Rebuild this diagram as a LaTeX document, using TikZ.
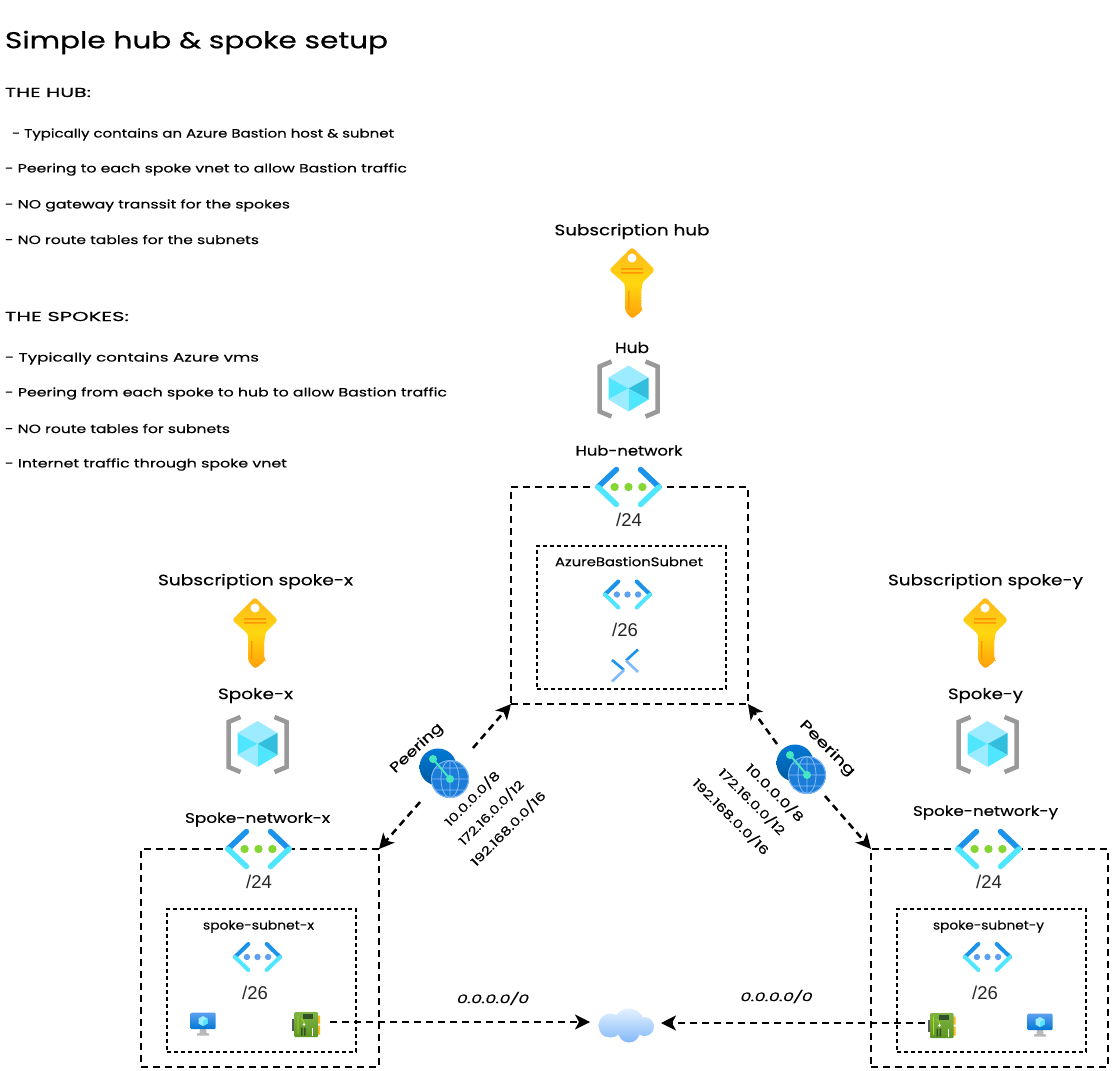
\documentclass[tikz,border=0pt]{standalone}
\usepackage{fontspec}
\usepackage{graphicx}
\usetikzlibrary{arrows.meta}
\setmainfont{Poppins}[FakeBold=0.25]
\newfontfamily\titlefont{Poppins}[FakeBold=0.6]
\newfontfamily\helv{Liberation Sans}
\newcommand{\fitw}[2]{\resizebox{#1pt}{\height}{#2}}
\newcommand{\vnetbody}[6]{%
  \fill[white] (-#1,-#2) rectangle (#1,#2);
  \draw[#4,line width=#3pt,line cap=round] (-#1+3,0) -- (-#1*0.36,-#2+2.5);
  \draw[#5,line width=#3pt,line cap=round] (-#1+3,0) -- (-#1*0.36,#2-2.5);
  \draw[#4,line width=#3pt,line cap=round] (#1-3,0) -- (#1*0.36,-#2+2.5);
  \draw[#5,line width=#3pt,line cap=round] (#1-3,0) -- (#1*0.36,#2-2.5);
  \fill[#6] (-#1*0.415,0) circle (#1*0.125) (0,0) circle (#1*0.125) (#1*0.415,0) circle (#1*0.125);
}
\definecolor{vblue}{HTML}{1B93EB}
\definecolor{vcyan}{HTML}{50E6FF}
\definecolor{vgreen}{HTML}{86D633}
\definecolor{vdot}{HTML}{5EA0EF}
\definecolor{keytop}{HTML}{FFB81C}
\definecolor{keymid}{HTML}{FFD70F}
\definecolor{keybot}{HTML}{FF9E0A}
\definecolor{keyline}{HTML}{FF9300}
\definecolor{rggray}{HTML}{999999}
\definecolor{rgtop}{HTML}{9CEBFF}
\definecolor{rgdark}{HTML}{32BEDD}
\definecolor{peerdark}{HTML}{0078D4}
\definecolor{peerdeep}{HTML}{005BA1}
\definecolor{peerglobe}{HTML}{1C7DD8}
\definecolor{peerline}{HTML}{83B9F9}
\definecolor{peerteal}{HTML}{45E6C0}
\definecolor{nictop}{HTML}{7DB343}
\definecolor{nicbot}{HTML}{5E9624}
\definecolor{nicchip}{HTML}{32502A}
\definecolor{cloudtop}{HTML}{E4F1FF}
\definecolor{cloudbot}{HTML}{83B9F9}
\tikzset{
  x=1pt,y=-1pt,
  lbl/.style={inner sep=0pt,outer sep=0pt,text=black,yshift=-1.5pt},
  iconbox/.style={inner sep=0pt,outer sep=0pt},
  outerbox/.style={draw=black,line width=2.5pt,dash pattern=on 7pt off 5pt,inner sep=0pt,outer sep=0pt,rectangle},
  innerbox/.style={draw=black,line width=1.2pt,dash pattern=on 4pt off 3pt,inner sep=0pt,outer sep=0pt,rectangle},
  conn/.style={draw=black,line width=2.5pt,dash pattern=on 7pt off 5pt,-{Stealth[length=15pt,width=15pt,inset=4pt]}},
  big/.style={font=\fontsize{15}{17}\selectfont},
  mid/.style={font=\fontsize{14}{16}\selectfont},
  small/.style={font=\fontsize{12}{14}\selectfont},
  sub/.style={font=\fontsize{12.5}{14}\selectfont},
  cidr/.style={font=\helv\fontsize{18.5}{20}\selectfont,text=black!85,inner sep=0pt,outer sep=0pt},
  pics/keyicon/.style={code={
    \shade[top color=keytop,bottom color=keybot,middle color=keymid,rounded corners=3pt]
      (0,-36) -- (23,-13) -- (10,0) -- (10,7) -- (8,10) -- (10,13) -- (8,16) -- (10,19) -- (8,22) -- (10,25) -- (10,28) -- (0,36) -- (-7,28) -- (-7,1) -- (-23,-13) -- cycle;
    \fill[white] (0,-25) circle (4.5);
    \fill[keyline] (-11,-15) rectangle (11,-13.5) (-11,-11) rectangle (11,-9.5) (-4,8) rectangle (-2.7,26);
  }},
  pics/rgicon/.style={code={
    \draw[rggray,line width=4.5pt] (-17,-27) -- (-29,-22) -- (-29,23) -- (-17,28);
    \draw[rggray,line width=4.5pt] (17,-27) -- (29,-22) -- (29,23) -- (17,28);
    \fill[rgtop] (-20,-11) -- (0,-23) -- (20,-11) -- (0,0) -- cycle;
    \fill[vcyan] (-20,-11) -- (0,0) -- (-20,11) -- cycle;
    \fill[rgdark] (20,-11) -- (0,0) -- (20,11) -- cycle;
    \fill[rgtop] (-20,11) -- (0,0) -- (0,23) -- cycle;
    \fill[vcyan] (20,11) -- (0,0) -- (0,23) -- cycle;
  }},
  pics/vnetbig/.style={code={\vnetbody{33.5}{20}{5.5}{vblue}{vcyan}{vgreen}}},
  pics/vnetsmall/.style={code={\vnetbody{25.5}{15.5}{4}{vblue}{vcyan}{vdot}}},
  pics/bastionicon/.style={code={
    \draw[vblue,line width=2.6pt] (-13,-5.5) -- (-1,4.5);
    \draw[peerline,line width=2.6pt] (-1,4.5) -- (-13,16);
    \draw[vblue,line width=2.6pt] (13,-16) -- (1,-5);
    \draw[peerline,line width=2.6pt] (1,-5) -- (13,6.5);
  }},
  pics/peericon/.style={code={
    \shade[top color=peerdark,bottom color=peerdeep] (-6,-6) circle (18.5);
    \fill[peerglobe] (6,6) circle (19);
    \draw[peerline,line width=.9pt] (6,6) circle (18.5);
    \draw[peerline,line width=.8pt] (6,6) ellipse (9 and 18.5) (6,-13) -- (6,25) (-13,6) -- (25,6) (-9,-5) -- (21,-5) (-9,17) -- (21,17);
    \draw[peerteal,line width=2pt] (-11,-14) -- (6,6);
    \fill[peerteal] (-11,-14) circle (4) (6,6) circle (4);
  }},
  pics/vmicon/.style={code={
    \fill[gray!55] (-3,4) -- (3,4) -- (3.5,9) -- (6,9.5) -- (6,11.5) -- (-6,11.5) -- (-6,9.5) -- (-3.5,9) -- cycle;
    \shade[top color=vdot,bottom color=peerdark,rounded corners=1pt] (-12.5,-11.5) rectangle (12.5,5);
    \fill[rgtop] (0,-8) -- (4.5,-5.5) -- (4.5,-.5) -- (0,2) -- (-4.5,-.5) -- (-4.5,-5.5) -- cycle;
    \fill[vcyan] (0,-3) -- (4.5,-5.5) -- (4.5,-.5) -- (0,2) -- cycle;
  }},
  pics/nicicon/.style={code={
    \fill[gray!70!black] (-14,-6) rectangle (-11,6);
    \fill[keytop] (11,-9) rectangle (14,-1) (11,1) rectangle (14,10);
    \shade[top color=nictop,bottom color=nicbot,rounded corners=1pt] (-11.5,-12.5) rectangle (12,12.5);
    \fill[nicchip] (-3,-11) rectangle (7,-6);
    \draw[keymid!70!green,line width=.7pt] (-8,-9) -- (-8,9) (-5,-6) -- (-2,-3) -- (-2,-1);
    \fill[white] (-2,0) circle (1.4);
    \fill[nicchip] (-5,3) rectangle (-3.5,11) (-2,3) rectangle (-.5,11);
    \fill[white] (6,3) rectangle (7.2,11);
  }},
  pics/cloudicon/.style={code={
    \shade[top color=cloudtop,bottom color=cloudbot]
      (-15.5,0) circle (12) (3,-2) circle (15) (18.5,1) circle (9.5) (3,6) circle (11) (-18,3) circle (8.5);
  }},
}
\begin{document}
\begin{tikzpicture}
\useasboundingbox (0,0) rectangle (1114,1071);
\fill[white] (0,0) rectangle (1114,1071);

% boxes
\node[outerbox,minimum width=237pt,minimum height=217pt] (hubbox) at (629.5,595.5) {};
\node[innerbox,minimum width=189pt,minimum height=143pt] (hubsub) at (631.5,617.5) {};
\node[outerbox,minimum width=238pt,minimum height=218pt] (xbox) at (260,958) {};
\node[innerbox,minimum width=189pt,minimum height=143pt] (xsub) at (261.5,980.5) {};
\node[outerbox,minimum width=237pt,minimum height=218pt] (ybox) at (989.5,958) {};
\node[innerbox,minimum width=189pt,minimum height=143pt] (ysub) at (991.5,980.5) {};

% invisible anchors of the icons that connectors attach to
\node[iconbox,minimum width=53pt,minimum height=54pt] (peerl) at (446.5,775) {};
\node[iconbox,minimum width=48pt,minimum height=52pt] (peerr) at (801,770) {};
\node[iconbox,minimum width=48pt,minimum height=24pt] (nicx) at (306,1022) {};
\node[iconbox,minimum width=32pt,minimum height=24pt] (nicy) at (941,1023) {};
\node[iconbox,minimum width=71pt,minimum height=35pt] (cloud) at (625.5,1023) {};

% connectors
\draw[conn] (peerl.north east) -- (hubbox.south west);
\draw[conn] (peerl.south west) -- (xbox.north east);
\draw[conn] (peerr.north west) -- (hubbox.south east);
\draw[conn] (peerr.south east) -- (ybox.north west);
\draw[conn] (nicx.east) -- (nicx.east -| cloud.west);
\draw[conn] (nicy.west) -- (nicy.west -| cloud.east);

% icons
\pic at (632,283) {keyicon};
\pic at (255,633) {keyicon};
\pic at (985,633) {keyicon};
\pic at (628.5,388.5) {rgicon};
\pic at (257.5,744) {rgicon};
\pic at (987.5,744) {rgicon};
\pic at (628.5,487) {vnetbig};
\pic at (258.5,849) {vnetbig};
\pic at (988.5,849) {vnetbig};
\pic at (627.5,594.5) {vnetsmall};
\pic at (257.5,957) {vnetsmall};
\pic at (987.5,957) {vnetsmall};
\pic at (625,665.5) {bastionicon};
\pic at (444,773) {peericon};
\pic at (801,769) {peericon};
\pic at (203,1024) {vmicon};
\pic at (1040,1025) {vmicon};
\pic at (306,1024.5) {nicicon};
\pic at (941.5,1025.5) {nicicon};
\pic at (626,1025.5) {cloudicon};

% left-hand text
\node[lbl,anchor=west,font=\titlefont\fontsize{23}{26}\selectfont] (title) at (5,41) {\fitw{383}{Simple hub \& spoke setup}};
\node[lbl,anchor=west,font=\fontsize{13}{15}\selectfont] (t1) at (5,91) {\fitw{86}{THE HUB:}};
\node[lbl,small,anchor=west] (t2) at (12,133) {\fitw{382}{- Typically contains an Azure Bastion host \& subnet}};
\node[lbl,small,anchor=west] (t3) at (5,168) {\fitw{402}{- Peering to each spoke vnet to allow Bastion traffic}};
\node[lbl,small,anchor=west] (t4) at (5,204) {\fitw{285}{- NO gateway transsit for the spokes}};
\node[lbl,small,anchor=west] (t5) at (5,238) {\fitw{254}{- NO route tables for the subnets}};
\node[lbl,anchor=west,font=\fontsize{13}{15}\selectfont] (t6) at (5,315) {\fitw{124}{THE SPOKES:}};
\node[lbl,small,anchor=west] (t7) at (5,357) {\fitw{254}{- Typically contains Azure vms}};
\node[lbl,small,anchor=west] (t8) at (5,392) {\fitw{442}{- Peering from each spoke to hub to allow Bastion traffic}};
\node[lbl,small,anchor=west] (t9) at (5,427) {\fitw{225}{- NO route tables for subnets}};
\node[lbl,small,anchor=west] (t10) at (5,463) {\fitw{282}{- Internet traffic through spoke vnet}};

% icon labels
\node[lbl,big] (subhub) at (632,230) {\fitw{155}{Subscription hub}};
\node[lbl,big] (hublbl) at (632,346) {\fitw{34}{Hub}};
\node[lbl,mid] (hubnet) at (629,449) {\fitw{107}{Hub-network}};
\node[cidr] (hub24) at (629,520) {/24};
\node[lbl,sub] (hubsublbl) at (629,560) {\fitw{148}{AzureBastionSubnet}};
\node[cidr] (hub26) at (625,630) {/26};

\node[lbl,big] (subx) at (255.5,580) {\fitw{195}{Subscription spoke-x}};
\node[lbl,big] (spokex) at (255.5,694) {\fitw{75}{Spoke-x}};
\node[lbl,mid] (netx) at (257.5,818) {\fitw{145}{Spoke-network-x}};
\node[cidr] (x24) at (259,882) {/24};
\node[lbl,sub] (subnetx) at (258.5,925) {\fitw{111}{spoke-subnet-x}};
\node[cidr] (x26) at (255,993) {/26};

\node[lbl,big] (suby) at (985.5,580) {\fitw{195}{Subscription spoke-y}};
\node[lbl,big] (spokey) at (985.5,694) {\fitw{75}{Spoke-y}};
\node[lbl,mid] (nety) at (985.5,811) {\fitw{145}{Spoke-network-y}};
\node[cidr] (y24) at (989,882) {/24};
\node[lbl,sub] (subnety) at (988.5,925) {\fitw{111}{spoke-subnet-y}};
\node[cidr] (y26) at (985,993) {/26};

% peering labels
\node[lbl,rotate=43,mid] (pl) at (417,747) {\fitw{66}{Peering}};
\node[lbl,rotate=45,small] (pl1) at (472,797) {\fitw{72}{10.0.0.0/8}};
\node[lbl,rotate=45,small] (pl2) at (491,811) {\fitw{86}{172.16.0.0/12}};
\node[lbl,rotate=45,small] (pl3) at (508,827) {\fitw{100}{192.168.0.0/16}};
\node[lbl,rotate=-45,mid] (pr) at (827,747) {\fitw{72}{Peering}};
\node[lbl,rotate=-45,small] (pr1) at (775,791) {\fitw{76}{10.0.0.0/8}};
\node[lbl,rotate=-45,small] (pr2) at (752,800) {\fitw{88}{172.16.0.0/12}};
\node[lbl,rotate=-45,small] (pr3) at (731,815) {\fitw{102}{192.168.0.0/16}};
\node[lbl,small,font=\itshape\fontsize{12}{14}\selectfont] (rl) at (493,997) {\fitw{72}{0.0.0.0/0}};
\node[lbl,small,font=\itshape\fontsize{12}{14}\selectfont] (rr) at (776.5,995) {\fitw{72}{0.0.0.0/0}};
\end{tikzpicture}
\end{document}
